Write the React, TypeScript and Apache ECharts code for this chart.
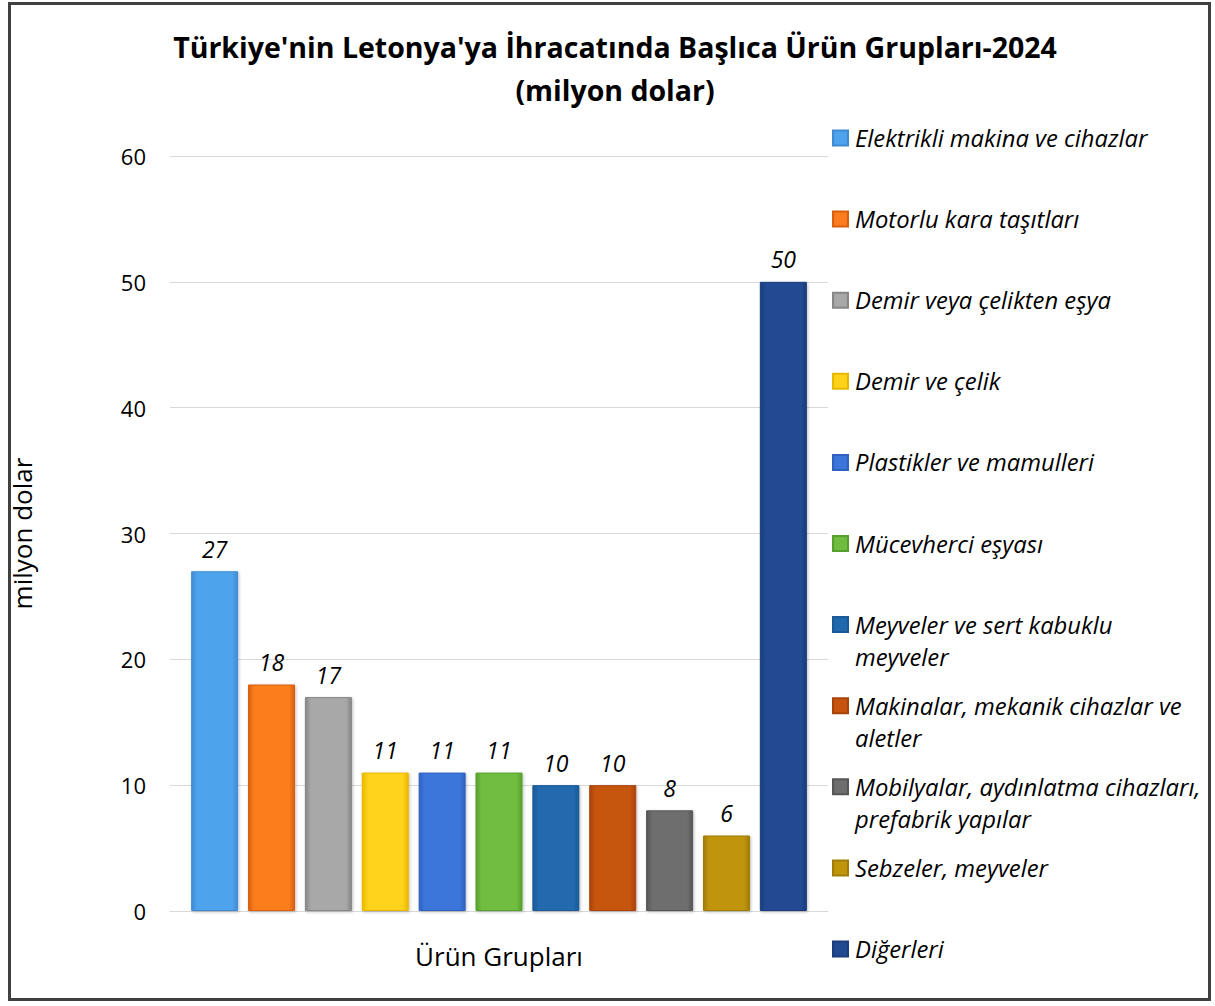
import React, { useEffect, useRef } from "react";
import * as echarts from "echarts";

const titleLines = ["Türkiye'nin Letonya'ya İhracatında Başlıca Ürün Grupları-2024", "(milyon dolar)"];
const categories = ["Ürün Grupları"];
const seriesNames = [
  "Elektrikli makina ve cihazlar",
  "Motorlu kara taşıtları",
  "Demir veya çelikten eşya",
  "Demir ve çelik",
  "Plastikler ve mamulleri",
  "Mücevherci eşyası",
  "Meyveler ve sert kabuklu meyveler",
  "Makinalar, mekanik cihazlar ve aletler",
  "Mobilyalar, aydınlatma cihazları, prefabrik yapılar",
  "Sebzeler, meyveler",
  "Diğerleri",
];
const legendLines = [
  ["Elektrikli makina ve cihazlar"],
  ["Motorlu kara taşıtları"],
  ["Demir veya çelikten eşya"],
  ["Demir ve çelik"],
  ["Plastikler ve mamulleri"],
  ["Mücevherci eşyası"],
  ["Meyveler ve sert kabuklu", "meyveler"],
  ["Makinalar, mekanik cihazlar ve", "aletler"],
  ["Mobilyalar, aydınlatma cihazları,", "prefabrik yapılar"],
  ["Sebzeler, meyveler"],
  ["Diğerleri"],
];
const values = [27, 18, 17, 11, 11, 11, 10, 10, 8, 6, 50];
const colors = [
  ["#3f8bd3", "#4ea3ec"],
  ["#d9600f", "#fb7d1e"],
  ["#878787", "#a8a8a8"],
  ["#e8b800", "#ffd21a"],
  ["#2f62c0", "#3c76da"],
  ["#58a02e", "#6fbd40"],
  ["#1a5a98", "#2169ad"],
  ["#a94309", "#c6540f"],
  ["#565656", "#6e6e6e"],
  ["#a27c06", "#c0950a"],
  ["#1a3d7c", "#224a91"],
];
const yTicks = { min: 0, max: 60, interval: 10 };
const yAxisName = "milyon dolar";

const FONT = "'Open Sans', 'Noto Sans', sans-serif";

export default function App() {
  const ref = useRef<HTMLDivElement>(null);
  useEffect(() => {
    if (!ref.current) return;
    const chart = echarts.init(ref.current, null, { renderer: "svg" });
    const firstCenter = 138;
    const step = 81.1;
    const legends = seriesNames.map((name, i) => {
      const lines = legendLines[i];
      const two = lines.length > 1;
      const center = firstCenter + step * i;
      return {
        data: [name],
        orient: "vertical",
        left: 832,
        top: two ? center - 48 : center - 16,
        padding: 0,
        itemWidth: 15,
        itemHeight: 15,
        icon: "rect",
        selectedMode: false,
        formatter: () => (two ? "\n" + lines.join("\n") : lines[0]),
        textStyle: {
          fontFamily: FONT,
          fontStyle: "italic",
          fontSize: 23.8,
          lineHeight: 32,
          color: "#000",
          padding: [0, 0, 0, 2],
        },
      };
    });
    const series = seriesNames.map((name, i) => ({
      name,
      type: "bar",
      data: [values[i]],
      barWidth: 47,
      barGap: "21%",
      itemStyle: {
        color: new echarts.graphic.LinearGradient(0, 0, 1, 0, [
          { offset: 0, color: colors[i][0] },
          { offset: 0.12, color: colors[i][1] },
          { offset: 0.88, color: colors[i][1] },
          { offset: 1, color: colors[i][0] },
        ]),
        borderColor: colors[i][0],
        borderWidth: 1,
        shadowBlur: 3,
        shadowColor: "rgba(0,0,0,0.25)",
        shadowOffsetX: 1,
        shadowOffsetY: 1,
      },
      label: {
        show: true,
        position: "top",
        distance: 11,
        fontFamily: FONT,
        fontStyle: "italic",
        fontSize: 23,
        color: "#000",
      },
    }));
    chart.setOption({
      animation: false,
      backgroundColor: "#fff",
      title: {
        text: titleLines.join("\n"),
        left: 610,
        textAlign: "center",
        top: 20,
        textStyle: {
          fontFamily: FONT,
          fontWeight: "bold",
          fontSize: 28.5,
          lineHeight: 43,
          color: "#000",
        },
      },
      graphic: [
        {
          type: "rect",
          shape: { x: 9.5, y: 3.5, width: 1200, height: 996 },
          style: { fill: "none", stroke: "#404040", lineWidth: 3 },
          silent: true,
        },
      ],
      legend: legends,
      grid: { left: 170, right: 387, top: 156, bottom: 95, containLabel: false },
      xAxis: {
        type: "category",
        data: categories,
        name: categories[0],
        nameLocation: "middle",
        nameGap: 32,
        nameTextStyle: { fontFamily: FONT, fontSize: 26, color: "#000" },
        axisLabel: { show: false },
        axisTick: { show: false },
        axisLine: { lineStyle: { color: "#d9d9d9", width: 1 } },
      },
      yAxis: {
        type: "value",
        min: yTicks.min,
        max: yTicks.max,
        interval: yTicks.interval,
        name: yAxisName,
        nameLocation: "middle",
        nameGap: 135,
        nameRotate: 90,
        nameTextStyle: { fontFamily: FONT, fontSize: 26, color: "#000" },
        axisLabel: { fontFamily: FONT, fontSize: 22, color: "#000", margin: 24 },
        axisLine: { show: false },
        axisTick: { show: false },
        splitLine: { lineStyle: { color: "#d9d9d9", width: 1 } },
      },
      series,
    });
    return () => chart.dispose();
  }, []);
  return (
    <div
      ref={ref}
      style={{ position: "fixed", left: 0, top: 0, width: 1215, height: 1006, background: "#fff" }}
    />
  );
}
